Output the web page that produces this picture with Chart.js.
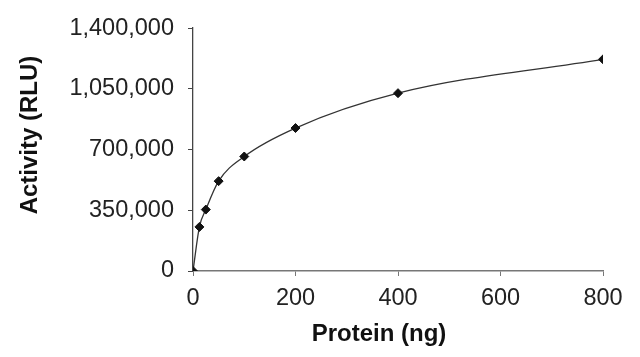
<!DOCTYPE html>
<html>
<head>
<meta charset="utf-8">
<script src="https://cdn.jsdelivr.net/npm/chart.js@4"></script>
<style>
  html, body { margin: 0; padding: 0; background: #fff; }
  #wrap { width: 640px; height: 357px; }
</style>
</head>
<body>
<div id="wrap"><canvas id="activity-chart"></canvas></div>
<script>
/* Activity vs protein amount */

const proteinNg = [0, 12.5, 25, 50, 100, 200, 400, 800];
const activityRlu = [0, 254000, 354000, 518000, 660000, 824000, 1025000, 1220000];
const xTicks = [0, 200, 400, 600, 800];
const yTicks = [0, 350000, 700000, 1050000, 1400000];
const xTitle = 'Protein (ng)';
const yTitle = 'Activity (RLU)';

const points = proteinNg.map((x, i) => ({ x: x, y: activityRlu[i] }));

Chart.defaults.font.family = '"Liberation Sans", Arial, sans-serif';
Chart.defaults.color = '#222';

// axis titles sit a bit off-centre in the original, so draw them by hand
const axisTitles = {
  id: 'axisTitles',
  afterDraw(chart) {
    const ctx = chart.ctx;
    ctx.save();
    ctx.fillStyle = '#111';
    ctx.font = 'bold 24px "Liberation Sans", Arial, sans-serif';
    ctx.textAlign = 'center';
    ctx.textBaseline = 'middle';
    ctx.fillText(xTitle, 379, 334);
    ctx.translate(30, 135);
    ctx.rotate(-Math.PI / 2);
    ctx.fillText(yTitle, 0, 0);
    ctx.restore();
  }
};

new Chart(document.getElementById('activity-chart'), {
  type: 'scatter',
  data: {
    datasets: [{
      label: 'Activity',
      data: points,
      showLine: true,
      cubicInterpolationMode: 'monotone',
      borderColor: '#333',
      borderWidth: 1.3,
      pointStyle: 'rectRot',
      pointRadius: 4.5,
      pointBackgroundColor: '#111',
      pointBorderColor: '#111',
      pointBorderWidth: 1
    }]
  },
  plugins: [axisTitles],
  options: {
    responsive: true,
    maintainAspectRatio: false,
    animation: false,
    layout: { padding: { top: 26, right: 37, bottom: 0, left: 0 } },
    plugins: { legend: { display: false }, tooltip: { enabled: false } },
    scales: {
      x: {
        type: 'linear',
        min: xTicks[0],
        max: xTicks[xTicks.length - 1],
        afterBuildTicks: s => { s.ticks = xTicks.map(v => ({ value: v })); },
        afterFit: s => { s.height = 86; },
        ticks: { font: { size: 23.5 }, color: '#222', padding: 8 },
        grid: { drawOnChartArea: false, drawTicks: true, tickLength: 5, color: '#777' },
        border: { display: true, color: '#777', width: 1.5 }
      },
      y: {
        type: 'linear',
        min: yTicks[0],
        max: yTicks[yTicks.length - 1],
        afterBuildTicks: s => { s.ticks = yTicks.map(v => ({ value: v })); },
        afterFit: s => { s.width = 193; },
        ticks: {
          font: { size: 23.5 },
          color: '#222',
          padding: 14,
          callback: v => v.toLocaleString('en-US')
        },
        grid: { drawOnChartArea: false, drawTicks: true, tickLength: 5, color: '#444' },
        border: { display: true, color: '#444', width: 1.3 }
      }
    }
  }
});
</script>
</body>
</html>
